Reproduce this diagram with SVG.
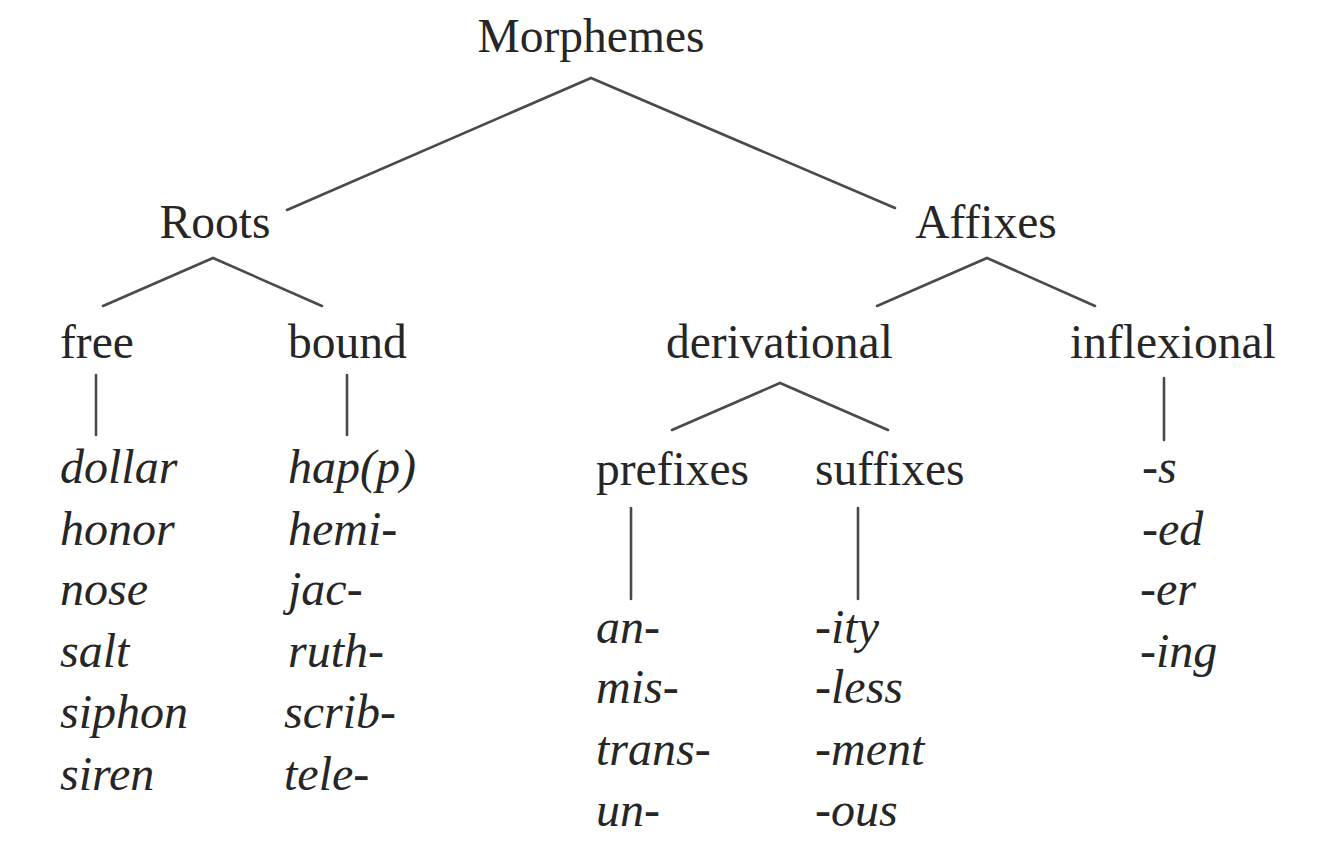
<svg xmlns="http://www.w3.org/2000/svg" width="1334" height="855" viewBox="0 0 1334 855">
<style>
text{font-family:'Liberation Serif','DejaVu Serif',serif;font-size:47.5px;fill:#262626}
.i{font-style:italic;font-size:48px}
.c{stroke:#4a4a4a;stroke-width:2.6;fill:none;stroke-linecap:round}
</style>
<rect width="1334" height="855" fill="#ffffff"/>
<g id="connectors">
<polyline class="c" points="287,210 591,78 895,208"/>
<polyline class="c" points="103,306 213,258 322,306"/>
<polyline class="c" points="877,306 987,258 1095,306"/>
<polyline class="c" points="672,430 780,383 888,430"/>
<line class="c" x1="96" y1="375" x2="96" y2="435"/>
<line class="c" x1="347" y1="375" x2="347" y2="435"/>
<line class="c" x1="1164" y1="378" x2="1164" y2="440"/>
<line class="c" x1="631" y1="508" x2="631" y2="599"/>
<line class="c" x1="858" y1="508" x2="858" y2="599"/>
</g>
<g id="morphemes"><text x="591" y="52" text-anchor="middle">Morphemes</text></g>
<g id="roots"><text x="215" y="238" text-anchor="middle">Roots</text></g>
<g id="affixes"><text x="986" y="238" text-anchor="middle">Affixes</text></g>
<g id="free"><text x="60" y="358">free</text></g>
<g id="bound"><text x="288" y="358">bound</text></g>
<g id="derivational"><text x="666" y="358">derivational</text></g>
<g id="inflexional"><text x="1070" y="358">inflexional</text></g>
<g id="prefixes"><text x="596" y="485">prefixes</text></g>
<g id="suffixes"><text x="815" y="485">suffixes</text></g>
<g id="free-list">
<text class="i" x="60" y="483">dollar</text>
<text class="i" x="60" y="545">honor</text>
<text class="i" x="60" y="605">nose</text>
<text class="i" x="60" y="667">salt</text>
<text class="i" x="60" y="728">siphon</text>
<text class="i" x="60" y="790">siren</text>
</g>
<g id="bound-list">
<text class="i" x="288" y="483">hap(p)</text>
<text class="i" x="288" y="545">hemi-</text>
<text class="i" x="288" y="605">jac-</text>
<text class="i" x="288" y="667">ruth-</text>
<text class="i" x="284" y="728">scrib-</text>
<text class="i" x="284" y="790">tele-</text>
</g>
<g id="prefix-list">
<text class="i" x="596" y="643">an-</text>
<text class="i" x="596" y="703">mis-</text>
<text class="i" x="596" y="765">trans-</text>
<text class="i" x="596" y="826">un-</text>
</g>
<g id="suffix-list">
<text class="i" x="815" y="643">-ity</text>
<text class="i" x="815" y="703">-less</text>
<text class="i" x="815" y="765">-ment</text>
<text class="i" x="815" y="826">-ous</text>
</g>
<g id="inflexional-list">
<text class="i" x="1142" y="483">-s</text>
<text class="i" x="1142" y="545">-ed</text>
<text class="i" x="1140" y="605">-er</text>
<text class="i" x="1140" y="667">-ing</text>
</g>
</svg>
